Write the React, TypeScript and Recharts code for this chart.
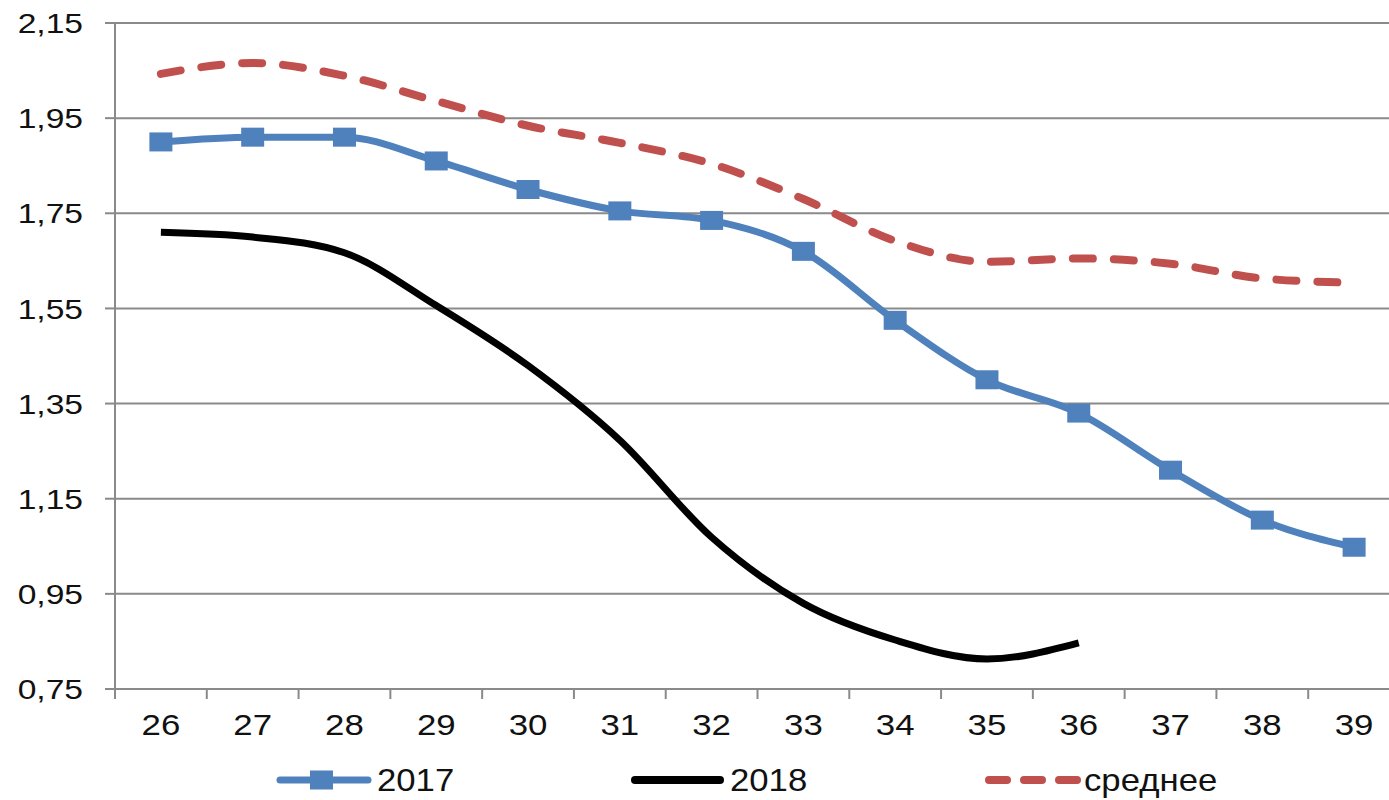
import React from 'react';
import { LineChart, Line, XAxis, YAxis, CartesianGrid, Legend } from 'recharts';

const categories = ['26', '27', '28', '29', '30', '31', '32', '33', '34', '35', '36', '37', '38', '39'];
const values2017 = [1.9, 1.91, 1.91, 1.86, 1.8, 1.755, 1.735, 1.67, 1.525, 1.4, 1.33, 1.21, 1.105, 1.048];
const values2018: (number | null)[] = [1.71, 1.7, 1.667, 1.556, 1.43, 1.273, 1.069, 0.93, 0.853, 0.813, 0.847, null, null, null];
const valuesAvg = [2.043, 2.066, 2.039, 1.986, 1.934, 1.898, 1.854, 1.78, 1.692, 1.648, 1.655, 1.644, 1.613, 1.604];
const yTicks = [0.75, 0.95, 1.15, 1.35, 1.55, 1.75, 1.95, 2.15];
const seriesNames = ['2017', '2018', 'среднее'];

const data = categories.map((c, i) => ({
  week: c,
  s2017: values2017[i],
  s2018: values2018[i],
  avg: valuesAvg[i],
}));

const BLUE = '#4F81BD';
const RED = '#C0504D';
const GRID = '#8a8a8a';
const FONT = '"Liberation Sans", Arial, sans-serif';

const fmt = (v: number) => v.toFixed(2).replace('.', ',');

const YTick = (props: any) => {
  const { x, y, payload } = props;
  return (
    <g transform={`translate(${x},${y})`}>
      <text
        x={0}
        y={0}
        dy="0.36em"
        textAnchor="end"
        transform="scale(1.2,1)"
        fontFamily={FONT}
        fontSize={28}
        fill="#111"
      >
        {fmt(payload.value)}
      </text>
    </g>
  );
};

const XTick = (props: any) => {
  const { x, y, payload, width, visibleTicksCount, index } = props;
  const n = visibleTicksCount || categories.length;
  const half = width / (2 * n);
  const axisY = y - 10;
  return (
    <g>
      <line x1={x - half} x2={x - half} y1={axisY} y2={axisY + 10} stroke={GRID} strokeWidth={2} />
      {index === n - 1 && (
        <line x1={x + half} x2={x + half} y1={axisY} y2={axisY + 10} stroke={GRID} strokeWidth={2} />
      )}
      <g transform={`translate(${x},${y + 36})`}>
        <text x={0} y={0} textAnchor="middle" transform="scale(1.2,1)" fontFamily={FONT} fontSize={29} fill="#111">
          {payload.value}
        </text>
      </g>
    </g>
  );
};

const SquareDot = (props: any) => {
  const { cx, cy } = props;
  if (cx == null || cy == null) return null;
  return <rect x={cx - 11.5} y={cy - 9.5} width={23} height={19} fill={BLUE} />;
};

const LegendContent = () => {
  const cy = 20;
  const textStyle = { fontFamily: FONT, fontSize: 31, fill: '#111' } as const;
  return (
    <svg width={1389} height={40} style={{ display: 'block' }}>
      <line x1={280} x2={368} y1={cy} y2={cy} stroke={BLUE} strokeWidth={7} strokeLinecap="round" />
      <rect x={310} y={cy - 9.5} width={23} height={19} fill={BLUE} />
      <g transform={`translate(377,${cy + 11})`}>
        <text transform="scale(1.12,1)" {...textStyle}>{seriesNames[0]}</text>
      </g>
      <line x1={635} x2={720} y1={cy} y2={cy} stroke="#000" strokeWidth={8} strokeLinecap="round" />
      <g transform={`translate(730,${cy + 11})`}>
        <text transform="scale(1.12,1)" {...textStyle}>{seriesNames[1]}</text>
      </g>
      <line
        x1={989}
        x2={1078}
        y1={cy}
        y2={cy}
        stroke={RED}
        strokeWidth={8}
        strokeLinecap="round"
        strokeDasharray="18 17"
      />
      <g transform={`translate(1084,${cy + 11})`}>
        <text transform="scale(1.12,1)" {...textStyle}>{seriesNames[2]}</text>
      </g>
    </svg>
  );
};

export default function App() {
  return (
    <div
      style={{
        position: 'absolute',
        left: 0,
        top: 0,
        width: 1389,
        height: 800,
        overflow: 'hidden',
        background: '#fff',
      }}
    >
      <LineChart width={1400} height={800} data={data} margin={{ top: 23, right: 0, bottom: 0, left: 0 }}>
        <CartesianGrid horizontal vertical={false} stroke={GRID} strokeWidth={2} />
        <XAxis
          dataKey="week"
          scale="band"
          height={71}
          axisLine={{ stroke: GRID, strokeWidth: 2 }}
          tickLine={false}
          tickSize={10}
          tickMargin={0}
          tick={<XTick />}
          interval={0}
        />
        <YAxis
          width={115}
          domain={[0.75, 2.15]}
          ticks={yTicks}
          interval={0}
          axisLine={{ stroke: GRID, strokeWidth: 2 }}
          tickLine={{ stroke: GRID, strokeWidth: 2 }}
          tickSize={10}
          tickMargin={22}
          tick={<YTick />}
        />
        <Legend
          verticalAlign="bottom"
          content={<LegendContent />}
          wrapperStyle={{ left: 0, bottom: 0, width: 1389, height: 40 }}
        />
        <Line
          type="monotone"
          dataKey="s2017"
          name={seriesNames[0]}
          stroke={BLUE}
          strokeWidth={7}
          dot={<SquareDot />}
          isAnimationActive={false}
        />
        <Line
          type="monotone"
          dataKey="s2018"
          name={seriesNames[1]}
          stroke="#000"
          strokeWidth={7}
          dot={false}
          connectNulls={false}
          isAnimationActive={false}
        />
        <Line
          type="monotone"
          dataKey="avg"
          name={seriesNames[2]}
          stroke={RED}
          strokeWidth={8}
          strokeDasharray="20 21"
          strokeLinecap="round"
          dot={false}
          isAnimationActive={false}
        />
      </LineChart>
    </div>
  );
}
